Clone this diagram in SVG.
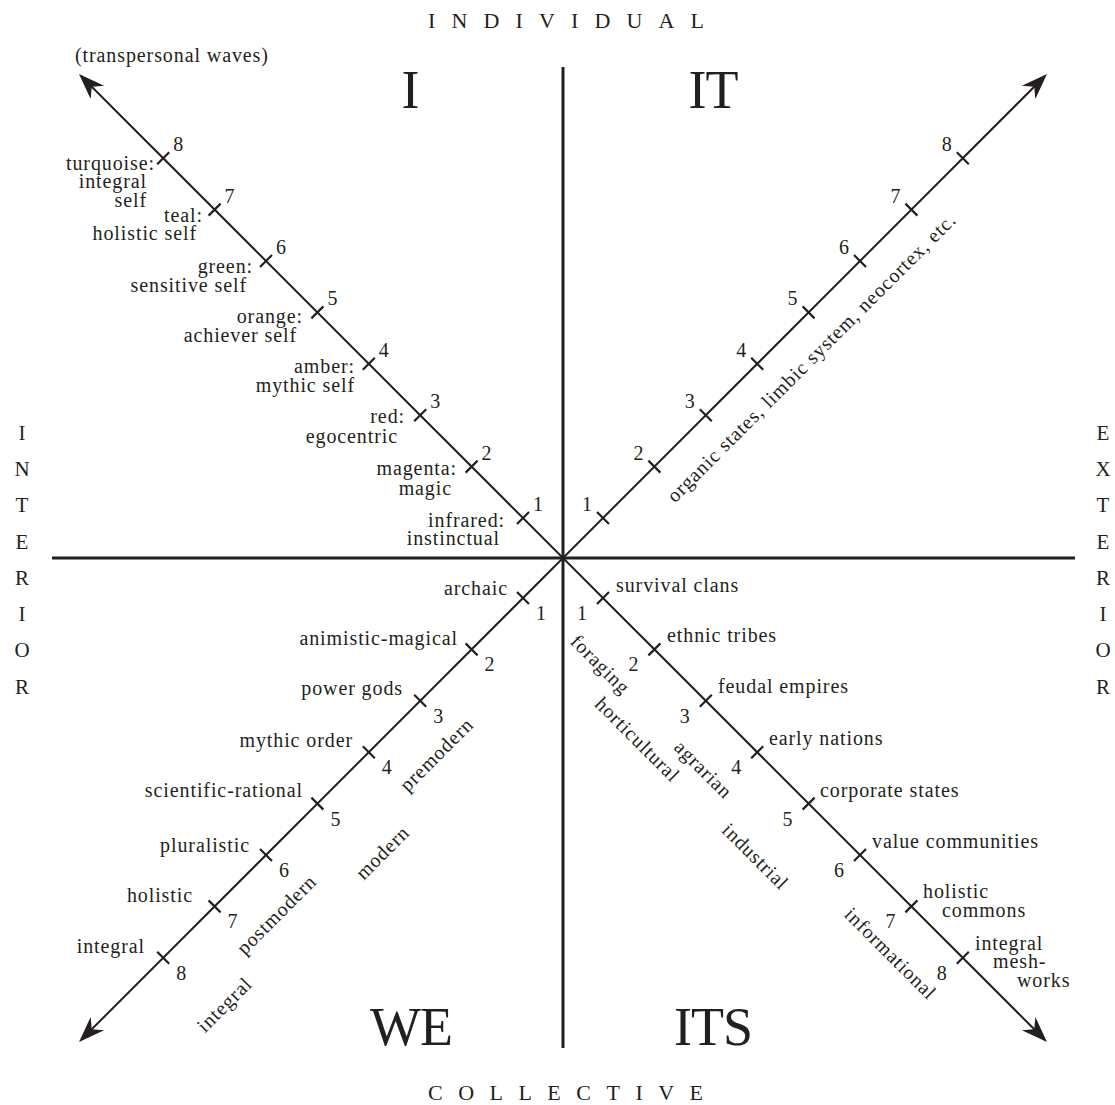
<svg xmlns="http://www.w3.org/2000/svg" width="1115" height="1105" viewBox="0 0 1115 1105">
<style>
text{font-family:"Liberation Serif","Times New Roman",serif;fill:#231f20}
.lb{font-size:20px;letter-spacing:0.9px}
.n{font-size:20px;text-anchor:middle}
.e{text-anchor:end}
.m{text-anchor:middle}
.q{font-size:54px;text-anchor:middle;letter-spacing:-1px}
.cap{font-size:21px;text-anchor:middle}
.axis{stroke:#231f20;stroke-width:3;fill:none}
.diag{stroke:#231f20;stroke-width:2;fill:none}
.tick{stroke:#231f20;stroke-width:2.2;fill:none}
</style>
<defs>
<marker id="ah" viewBox="-27 -10 29 20" markerWidth="29" markerHeight="20" refX="-5.66" refY="0" orient="auto" markerUnits="userSpaceOnUse">
<path d="M0,0 L-26,-9.5 L-18,0 L-26,9.5 Z" fill="#231f20"/>
</marker>
</defs>
<rect width="1115" height="1105" fill="#fff"/>

<g id="connectors">
<line class="axis" x1="52" y1="558" x2="1075" y2="558"/>
<line class="axis" x1="563" y1="67" x2="563" y2="1048"/>
<line class="diag" x1="563" y1="558" x2="83" y2="78" marker-end="url(#ah)"/>
<line class="diag" x1="563" y1="558" x2="1043" y2="78" marker-end="url(#ah)"/>
<line class="diag" x1="563" y1="558" x2="83" y2="1038" marker-end="url(#ah)"/>
<line class="diag" x1="563" y1="558" x2="1043" y2="1038" marker-end="url(#ah)"/>
<path class="tick" d="M517,524L529,512 M465.6,472.6L477.6,460.6 M414.2,421.2L426.2,409.2 M362.8,369.8L374.8,357.8 M311.4,318.4L323.4,306.4 M260,267L272,255 M208.6,215.6L220.6,203.6 M157.2,164.2L169.2,152.2"/>
<path class="tick" d="M597,512L609,524 M648.4,460.6L660.4,472.6 M699.8,409.2L711.8,421.2 M751.2,357.8L763.2,369.8 M802.6,306.4L814.6,318.4 M854,255L866,267 M905.4,203.6L917.4,215.6 M956.8,152.2L968.8,164.2"/>
<path class="tick" d="M517,592L529,604 M465.6,643.4L477.6,655.4 M414.2,694.8L426.2,706.8 M362.8,746.2L374.8,758.2 M311.4,797.6L323.4,809.6 M260,849L272,861 M208.6,900.4L220.6,912.4 M157.2,951.8L169.2,963.8"/>
<path class="tick" d="M597,604L609,592 M648.4,655.4L660.4,643.4 M699.8,706.8L711.8,694.8 M751.2,758.2L763.2,746.2 M802.6,809.6L814.6,797.6 M854,861L866,849 M905.4,912.4L917.4,900.4 M956.8,963.8L968.8,951.8"/>
</g>

<g id="axis-labels">
<text class="cap" x="428" y="28" style="text-anchor:start;font-size:22px" textLength="276" lengthAdjust="spacing">INDIVIDUAL</text>
<text class="cap" x="428" y="1100" style="text-anchor:start;font-size:22px" textLength="275" lengthAdjust="spacing">COLLECTIVE</text>
<g id="interior">
<text class="cap" x="22" y="440">I</text>
<text class="cap" x="22" y="476">N</text>
<text class="cap" x="22" y="512">T</text>
<text class="cap" x="22" y="549">E</text>
<text class="cap" x="22" y="585">R</text>
<text class="cap" x="22" y="621">I</text>
<text class="cap" x="22" y="657">O</text>
<text class="cap" x="22" y="694">R</text>
</g>
<g id="exterior">
<text class="cap" x="1103" y="440">E</text>
<text class="cap" x="1103" y="476">X</text>
<text class="cap" x="1103" y="512">T</text>
<text class="cap" x="1103" y="549">E</text>
<text class="cap" x="1103" y="585">R</text>
<text class="cap" x="1103" y="621">I</text>
<text class="cap" x="1103" y="657">O</text>
<text class="cap" x="1103" y="694">R</text>
</g>
</g>

<g id="quadrant-I">
<text class="q" x="410" y="108">I</text>
<text class="lb" x="75" y="62">(transpersonal waves)</text>
<text class="n" x="538" y="511">1</text>
<text class="n" x="486.6" y="459.6">2</text>
<text class="n" x="435.2" y="408.2">3</text>
<text class="n" x="383.8" y="356.8">4</text>
<text class="n" x="332.4" y="305.4">5</text>
<text class="n" x="281" y="254">6</text>
<text class="n" x="229.6" y="202.6">7</text>
<text class="n" x="178.2" y="151.2">8</text>
<text class="lb e" x="505" y="527">infrared:</text>
<text class="lb e" x="500" y="545">instinctual</text>
<text class="lb e" x="457" y="475">magenta:</text>
<text class="lb e" x="452" y="495">magic</text>
<text class="lb e" x="405" y="423">red:</text>
<text class="lb e" x="398" y="443">egocentric</text>
<text class="lb e" x="355" y="373">amber:</text>
<text class="lb e" x="355" y="392">mythic self</text>
<text class="lb e" x="303" y="323">orange:</text>
<text class="lb e" x="297" y="342">achiever self</text>
<text class="lb e" x="253" y="273">green:</text>
<text class="lb e" x="247" y="292">sensitive self</text>
<text class="lb e" x="203" y="222">teal:</text>
<text class="lb e" x="197" y="240">holistic self</text>
<text class="lb e" x="155" y="170">turquoise:</text>
<text class="lb e" x="147" y="188">integral</text>
<text class="lb e" x="147" y="207">self</text>
</g>

<g id="quadrant-IT">
<text class="q" x="713" y="108">IT</text>
<text class="n" x="587" y="511">1</text>
<text class="n" x="638.4" y="459.6">2</text>
<text class="n" x="689.8" y="408.2">3</text>
<text class="n" x="741.2" y="356.8">4</text>
<text class="n" x="792.6" y="305.4">5</text>
<text class="n" x="844" y="254">6</text>
<text class="n" x="895.4" y="202.6">7</text>
<text class="n" x="946.8" y="151.2">8</text>
<text class="lb m" transform="translate(812,358) rotate(-45)" x="0" y="6">organic states, limbic system, neocortex, etc.</text>
</g>

<g id="quadrant-WE">
<text class="q" x="411" y="1045">WE</text>
<text class="n" x="541" y="620">1</text>
<text class="n" x="489.6" y="671.4">2</text>
<text class="n" x="438.2" y="722.8">3</text>
<text class="n" x="386.8" y="774.2">4</text>
<text class="n" x="335.4" y="825.6">5</text>
<text class="n" x="284" y="877">6</text>
<text class="n" x="232.6" y="928.4">7</text>
<text class="n" x="181.2" y="979.8">8</text>
<text class="lb e" x="508" y="595">archaic</text>
<text class="lb e" x="458" y="645">animistic-magical</text>
<text class="lb e" x="403" y="695">power gods</text>
<text class="lb e" x="353" y="747">mythic order</text>
<text class="lb e" x="303" y="797">scientific-rational</text>
<text class="lb e" x="250" y="852">pluralistic</text>
<text class="lb e" x="193" y="902">holistic</text>
<text class="lb e" x="145" y="953">integral</text>
<text class="lb m" transform="translate(437,755) rotate(-45)" x="0" y="6">premodern</text>
<text class="lb m" transform="translate(383,853) rotate(-45)" x="0" y="6">modern</text>
<text class="lb m" transform="translate(277,915) rotate(-45)" x="0" y="6">postmodern</text>
<text class="lb m" transform="translate(225,1005) rotate(-45)" x="0" y="6">integral</text>
</g>

<g id="quadrant-ITS">
<text class="q" x="713" y="1045">ITS</text>
<text class="n" x="582" y="620">1</text>
<text class="n" x="633.4" y="671.4">2</text>
<text class="n" x="684.8" y="722.8">3</text>
<text class="n" x="736.2" y="774.2">4</text>
<text class="n" x="787.6" y="825.6">5</text>
<text class="n" x="839" y="877">6</text>
<text class="n" x="890.4" y="928.4">7</text>
<text class="n" x="941.8" y="979.8">8</text>
<text class="lb" x="616" y="592">survival clans</text>
<text class="lb" x="667" y="642">ethnic tribes</text>
<text class="lb" x="718" y="693">feudal empires</text>
<text class="lb" x="769" y="745">early nations</text>
<text class="lb" x="820" y="797">corporate states</text>
<text class="lb" x="872" y="848">value communities</text>
<text class="lb" x="923" y="898">holistic</text>
<text class="lb" x="942" y="917">commons</text>
<text class="lb" x="975" y="950">integral</text>
<text class="lb" x="993" y="968">mesh-</text>
<text class="lb" x="1017" y="987">works</text>
<text class="lb m" transform="translate(600,665) rotate(45)" x="0" y="6">foraging</text>
<text class="lb m" transform="translate(637,740) rotate(45)" x="0" y="6">horticultural</text>
<text class="lb m" transform="translate(703,770) rotate(45)" x="0" y="6">agrarian</text>
<text class="lb m" transform="translate(755,857) rotate(45)" x="0" y="6">industrial</text>
<text class="lb m" transform="translate(890,954) rotate(45)" x="0" y="6">informational</text>
</g>
</svg>
